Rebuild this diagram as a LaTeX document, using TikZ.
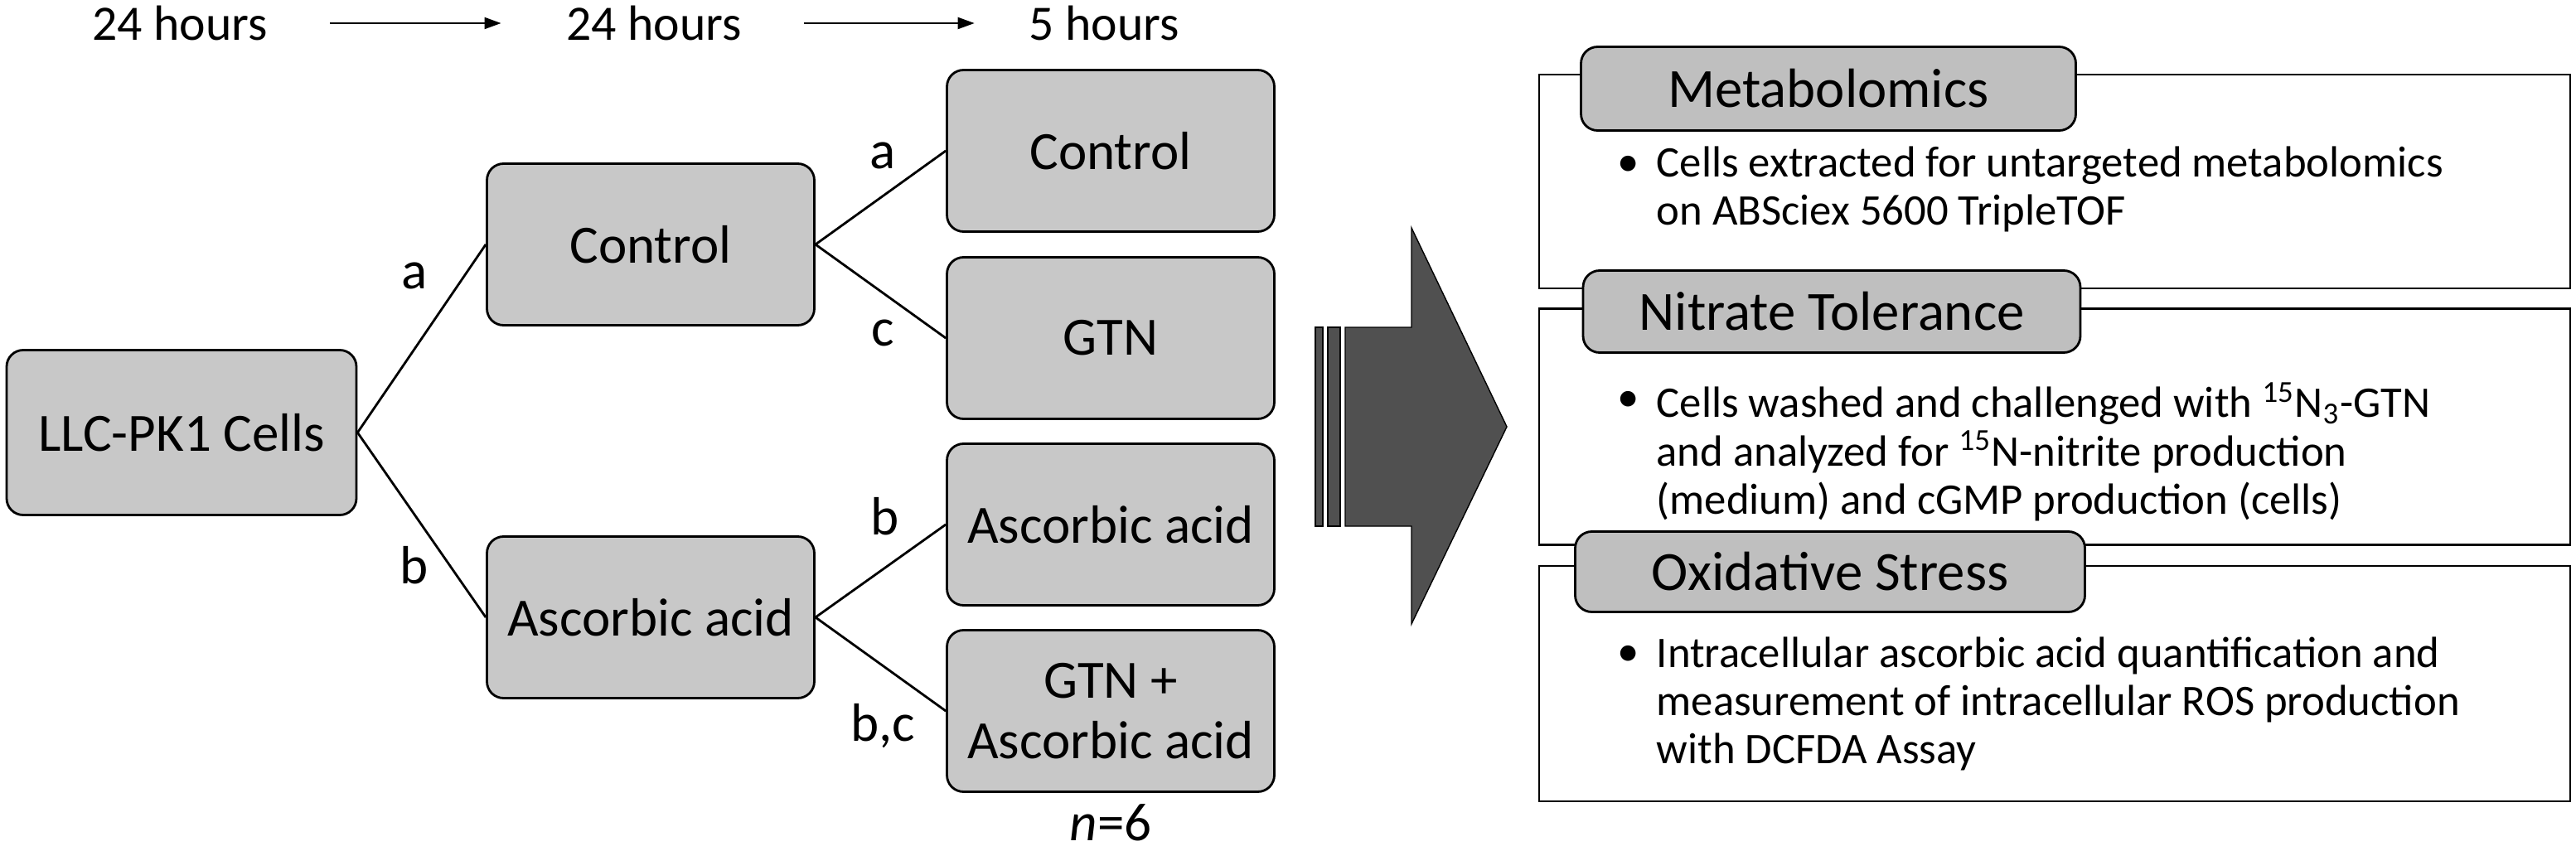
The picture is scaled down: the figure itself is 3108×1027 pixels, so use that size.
\documentclass[tikz,border=0pt]{standalone}
\usepackage{fontspec}
\setmainfont{Carlito}
\usetikzlibrary{arrows.meta}
\usetikzlibrary{positioning}

\definecolor{boxgray}{HTML}{C8C8C8}
\definecolor{tabgray}{HTML}{BFBFBF}
\definecolor{arrowgray}{HTML}{505050}

\tikzset{
	stage/.style = {draw, fill=boxgray, rounded corners=2mm, line width=0.8pt, minimum width=39.5mm, minimum height=19.5mm, align=center, inner sep=0pt, font=\fontsize{18.5}{20.7}\selectfont},
	branch/.style = {line width=0.8pt},
	lab/.style = {inner sep=0pt, font=\fontsize{18.5}{20.7}\selectfont},
	hrs/.style = {inner sep=0pt, font=\fontsize{17}{19}\selectfont},
	timearrow/.style = {-{Triangle[length=2mm, width=1.4mm]}, line width=0.6pt},
	bigarrow/.style = {fill=arrowgray, draw=black, line width=0.4pt},
	panel/.style = {draw, fill=white, line width=0.8pt, minimum width=124.4mm},
	tab/.style = {draw, fill=tabgray, rounded corners=2mm, line width=0.8pt, inner sep=0pt, font=\fontsize{19}{21}\selectfont},
	body/.style = {inner sep=0pt, align=left, font=\fontsize{15}{16.6}\selectfont},
}

\begin{document}
\begin{tikzpicture}[x=0.1mm, y=-0.1mm]
	\useasboundingbox (0, 0) rectangle (3108, 1027);

	\node[hrs] (h1) at (217, 28) {24 hours};
	\node[hrs] (h2) at (789, 28) {24 hours};
	\node[hrs] (h3) at (1332, 28) {5 hours};
	\draw[timearrow, shorten <=7.5mm, shorten >=7.8mm] (h1) -- (h2);
	\draw[timearrow, shorten <=7.5mm, shorten >=6.5mm] (h2) -- (h3);

	\node[stage, minimum width=42.2mm, minimum height=19.9mm] (cells) at (219, 522) {LLC-PK1 Cells};
	\node[stage] (ctrl) at (785, 295) {Control};
	\node[stage] (asc) at (785, 745) {Ascorbic acid};
	\node[stage] (ctrlctrl) at (1340, 182) {Control};
	\node[stage] (ctrlgtn) at (1340, 408) {GTN};
	\node[stage] (ascasc) at (1340, 633) {Ascorbic acid};
	\node[stage] (ascgtn) at (1340, 858) {GTN +\\Ascorbic acid};
	\node[lab] (nrep) at (1340, 993) {{\itshape n}=6};

	\draw[branch] (cells.east) -- (ctrl.west);
	\draw[branch] (cells.east) -- (asc.west);
	\draw[branch] (ctrl.east) -- (ctrlctrl.west);
	\draw[branch] (ctrl.east) -- (ctrlgtn.west);
	\draw[branch] (asc.east) -- (ascasc.west);
	\draw[branch] (asc.east) -- (ascgtn.west);

	\node[lab] (la) at (500, 333) {a};
	\node[lab] (lb) at (500, 682) {b};
	\node[lab] (laa) at (1065, 188) {a};
	\node[lab] (lac) at (1065, 402) {c};
	\node[lab] (lbb) at (1068, 623) {b};
	\node[lab] (lbc) at (1065, 876) {b,c};

	\draw[bigarrow] (1587, 395) rectangle (1596, 635);
	\draw[bigarrow] (1602, 395) rectangle (1617, 635);
	\draw[bigarrow] (1623, 395) -- (1703, 395) -- (1703, 275) -- (1818, 515) -- (1703, 753) -- (1703, 635) -- (1623, 635) -- cycle;

	\node[panel, minimum height=25.8mm] (metpanel) at (2479, 219) {};
	\node[panel, minimum height=28.5mm] (nitpanel) at (2479, 515) {};
	\node[panel, minimum height=28.4mm] (oxpanel) at (2479, 825) {};

	\node[tab, minimum width=59.7mm, minimum height=10.1mm] (mettab) at (2206, 107) {Metabolomics};
	\node[tab, minimum width=60mm, minimum height=9.9mm] (nittab) at (2210, 376) {Nitrate Tolerance};
	\node[tab, minimum width=61.5mm, minimum height=9.7mm] (oxtab) at (2208, 690) {Oxidative Stress};

	\node[body] (metbul) at (1965, 200) {\textbullet};
	\node[body, anchor=north west] (mettext) at (1998, 176) {Cells extracted for untargeted metabolomics\\on ABSciex 5600 TripleTOF};
	\node[body] (nitbul) at (1965, 484) {\textbullet};
	\node[body, anchor=north west] (nittext) at (1998, 461) {Cells washed and challenged with \textsuperscript{15}N\textsubscript{3}-GTN\\and analyzed for \textsuperscript{15}N-nitrite production\\(medium) and cGMP production (cells)};
	\node[body] (oxbul) at (1965, 791) {\textbullet};
	\node[body, anchor=north west] (oxtext) at (1998, 768) {Intracellular ascorbic acid quantification and\\measurement of intracellular ROS production\\with DCFDA Assay};
\end{tikzpicture}
\end{document}
